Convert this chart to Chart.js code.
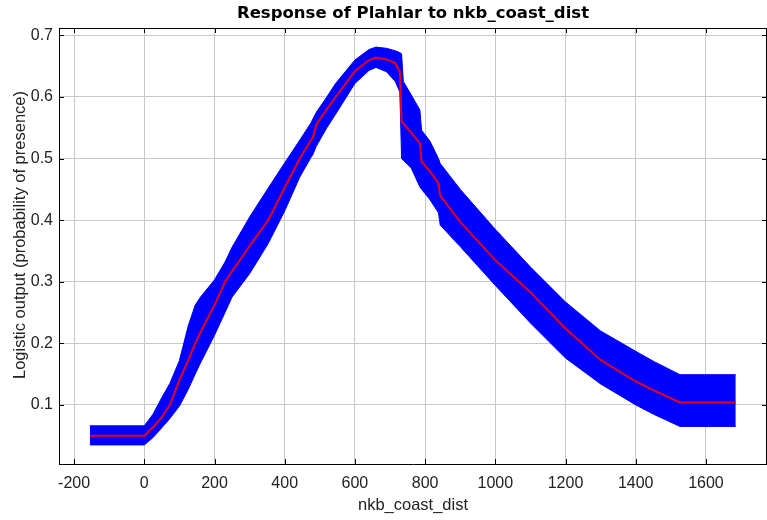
<!DOCTYPE html>
<html>
<head>
<meta charset="utf-8">
<script src="https://cdn.jsdelivr.net/npm/chart.js@4"></script>
<style>
  html, body { margin: 0; padding: 0; background: #fff; }
  #wrap { width: 767px; height: 520px; }
</style>
</head>
<body>
<div id="wrap"><canvas id="responseChart" width="767" height="520"></canvas></div>
<script>
// nkb_coast_dist values and the response
const xValues = [-155, 0, 25, 50, 73, 100, 125, 145, 160, 200, 230, 250, 300, 353, 400, 443, 475, 480, 490, 520, 545, 600, 640, 660, 690, 715, 728, 733, 738, 760, 785, 790, 814, 838, 843, 900, 1000, 1100, 1200, 1300, 1400, 1450, 1526, 1685];
const meanValues = [0.050, 0.050, 0.064, 0.080, 0.100, 0.140, 0.172, 0.200, 0.218, 0.262, 0.300, 0.317, 0.358, 0.400, 0.453, 0.500, 0.530, 0.533, 0.555, 0.580, 0.600, 0.642, 0.660, 0.664, 0.661, 0.655, 0.641, 0.560, 0.557, 0.542, 0.525, 0.495, 0.479, 0.460, 0.440, 0.397, 0.335, 0.283, 0.224, 0.173, 0.138, 0.124, 0.104, 0.104];
const upperValues = [0.066, 0.066, 0.085, 0.112, 0.135, 0.172, 0.228, 0.262, 0.275, 0.303, 0.332, 0.356, 0.405, 0.452, 0.493, 0.530, 0.558, 0.564, 0.575, 0.600, 0.622, 0.660, 0.677, 0.681, 0.679, 0.675, 0.672, 0.670, 0.625, 0.604, 0.579, 0.546, 0.528, 0.500, 0.492, 0.450, 0.385, 0.324, 0.267, 0.220, 0.187, 0.171, 0.149, 0.149];
const lowerValues = [0.035, 0.035, 0.047, 0.063, 0.078, 0.098, 0.125, 0.150, 0.168, 0.213, 0.250, 0.275, 0.313, 0.362, 0.415, 0.470, 0.502, 0.506, 0.520, 0.550, 0.572, 0.622, 0.643, 0.648, 0.641, 0.625, 0.608, 0.500, 0.497, 0.485, 0.454, 0.450, 0.433, 0.412, 0.392, 0.357, 0.294, 0.233, 0.176, 0.134, 0.100, 0.085, 0.065, 0.065];

const xTicks = [-200, 0, 200, 400, 600, 800, 1000, 1200, 1400, 1600];
const yTicks = [0.1, 0.2, 0.3, 0.4, 0.5, 0.6, 0.7];

const toPoints = arr => xValues.map((x, i) => ({ x: x, y: arr[i] }));

const labelFont = '"Liberation Sans", Arial, sans-serif';

// frame on top/right, inward ticks, and the titles
const framePlugin = {
    id: 'frame',
    afterDraw(chart) {
        const { ctx, chartArea: a } = chart;
        const xs = chart.scales.x, ys = chart.scales.y;
        ctx.save();
        ctx.strokeStyle = '#000';
        ctx.lineWidth = 1;
        ctx.beginPath();
        ctx.moveTo(a.left, a.top + 0.5);
        ctx.lineTo(a.right, a.top + 0.5);
        ctx.moveTo(a.right - 0.5, a.top);
        ctx.lineTo(a.right - 0.5, a.bottom);
        xTicks.forEach(v => {
            const px = Math.round(xs.getPixelForValue(v)) + 0.5;
            ctx.moveTo(px, a.bottom);
            ctx.lineTo(px, a.bottom - 5);
            ctx.moveTo(px, a.top);
            ctx.lineTo(px, a.top + 5);
        });
        yTicks.forEach(v => {
            const py = Math.round(ys.getPixelForValue(v)) + 0.5;
            ctx.moveTo(a.left, py);
            ctx.lineTo(a.left + 5, py);
            ctx.moveTo(a.right, py);
            ctx.lineTo(a.right - 5, py);
        });
        ctx.stroke();

        ctx.textAlign = 'center';
        ctx.textBaseline = 'middle';
        ctx.fillStyle = '#000';
        ctx.font = 'bold 16.5px "DejaVu Sans", sans-serif';
        ctx.fillText('Response of Plahlar to nkb_coast_dist', (a.left + a.right) / 2, 14);

        ctx.fillStyle = '#222';
        ctx.font = '16.5px ' + labelFont;
        ctx.fillText('nkb_coast_dist', (a.left + a.right) / 2, 505);
        ctx.translate(20, 235);
        ctx.rotate(-Math.PI / 2);
        ctx.fillText('Logistic output (probability of presence)', 0, 0);
        ctx.restore();
    }
};

new Chart(document.getElementById('responseChart'), {
    type: 'line',
    data: {
        datasets: [
            {
                label: 'mean',
                data: toPoints(meanValues),
                borderColor: 'rgb(232,0,20)',
                borderWidth: 2,
                pointRadius: 0,
                fill: false,
                tension: 0,
            },
            {
                label: 'mean + sd',
                data: toPoints(upperValues),
                borderColor: '#0000ff',
                backgroundColor: '#0000ff',
                borderWidth: 1,
                pointRadius: 0,
                fill: '+1',
                tension: 0,
            },
            {
                label: 'mean - sd',
                data: toPoints(lowerValues),
                borderColor: '#0000ff',
                borderWidth: 1,
                pointRadius: 0,
                fill: false,
                tension: 0,
            },
        ],
    },
    options: {
        responsive: false,
        animation: false,
        devicePixelRatio: 1,
        layout: { padding: { top: 28, right: 0, bottom: 0, left: 0 } },
        plugins: {
            legend: { display: false },
            tooltip: { enabled: false },
            title: { display: false },
        },
        scales: {
            x: {
                type: 'linear',
                min: -243,
                max: 1774,
                afterFit: s => { s.height = 56; },
                afterBuildTicks: s => { s.ticks = xTicks.map(v => ({ value: v })); },
                grid: { color: '#c8c8c8', drawTicks: false },
                border: { color: '#000', width: 1 },
                ticks: {
                    color: '#222',
                    padding: 10,
                    maxRotation: 0,
                    font: { family: labelFont, size: 16 },
                    callback: v => String(v),
                },
            },
            y: {
                type: 'linear',
                min: 0.004,
                max: 0.712,
                afterFit: s => { s.width = 59; },
                afterBuildTicks: s => { s.ticks = yTicks.map(v => ({ value: v })); },
                grid: { color: '#c8c8c8', drawTicks: false },
                border: { color: '#000', width: 1 },
                ticks: {
                    color: '#222',
                    padding: 6,
                    font: { family: labelFont, size: 16 },
                    callback: v => v.toFixed(1),
                },
            },
        },
    },
    plugins: [framePlugin],
});
</script>
</body>
</html>
